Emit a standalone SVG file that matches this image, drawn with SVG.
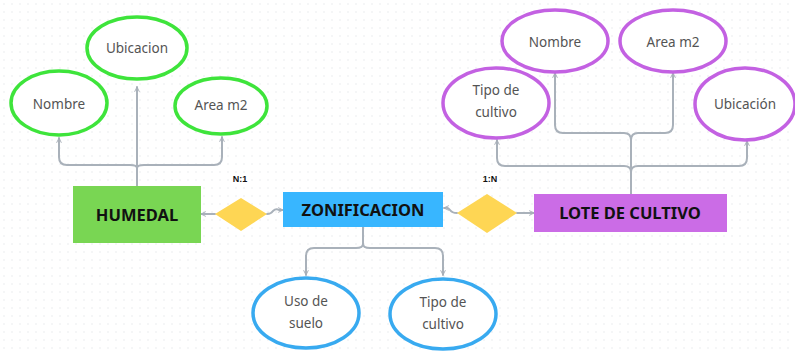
<svg xmlns="http://www.w3.org/2000/svg" width="795" height="352" viewBox="0 0 795 352">
<defs>
<pattern id="dots" width="8" height="8" patternUnits="userSpaceOnUse"><circle cx="4" cy="4" r="0.7" fill="#e3e5e8"/></pattern>
<marker id="ah" viewBox="0 0 10 10" refX="9" refY="5" markerWidth="6" markerHeight="6" orient="auto-start-reverse" markerUnits="userSpaceOnUse"><path d="M1,1 L9,5 L1,9" fill="none" stroke="#a7afb8" stroke-width="1.6"/></marker>
<style>
.c{fill:none;stroke:#a9b1ba;stroke-width:2;stroke-linejoin:round;stroke-linecap:round}
.g{fill:#fff;stroke:#3ee43b;stroke-width:3.5}
.p{fill:#fff;stroke:#c361e2;stroke-width:3.5}
.b{fill:#fff;stroke:#38aaf0;stroke-width:3.5}
.t{font-family:"Noto Sans","Liberation Sans",sans-serif;font-size:13.5px;fill:#545454;text-anchor:middle}
.h{font-family:"Noto Sans","Liberation Sans",sans-serif;font-size:16.5px;font-weight:bold;fill:#111;text-anchor:middle}
.r{font-family:"Liberation Sans",sans-serif;font-size:9px;font-weight:bold;fill:#111;text-anchor:middle}
.d{fill:#fed654}
</style>
</defs>
<rect width="795" height="352" fill="#fff"/>
<rect width="795" height="352" fill="url(#dots)"/>
<g id="connectors">
<path class="c" d="M137,186 V87" marker-end="url(#ah)"/>
<path class="c" d="M137,168 Q137,165 130,165 H67 Q59,165 59,157 V138" marker-end="url(#ah)"/>
<path class="c" d="M137,168 Q137,165 144,165 H214 Q222,165 222,157 V137" marker-end="url(#ah)"/>
<path class="c" d="M215,214 H201" marker-end="url(#ah)"/>
<path class="c" d="M267,214 Q271,214 273,211 Q276,208 279,210 L283,210" marker-end="url(#ah)"/>
<path class="c" d="M457,213 Q452,213 450,210 Q448,207 445,208 L444,208" marker-end="url(#ah)"/>
<path class="c" d="M517,213 H534" marker-end="url(#ah)"/>
<path class="c" d="M363,227 V244 Q363,248 356,248 H314 Q306,248 306,256 V275" marker-end="url(#ah)"/>
<path class="c" d="M363,244 Q363,248 370,248 H435 Q443,248 443,256 V275" marker-end="url(#ah)"/>
<path class="c" d="M631,194 V140 Q631,133 624,133 H563 Q555,133 555,125 V73" marker-end="url(#ah)"/>
<path class="c" d="M631,140 Q631,133 638,133 H665 Q673,133 673,125 V73" marker-end="url(#ah)"/>
<path class="c" d="M631,172 Q631,166 624,166 H505 Q497,166 497,158 V140" marker-end="url(#ah)"/>
<path class="c" d="M631,172 Q631,166 638,166 H739 Q747,166 747,158 V141" marker-end="url(#ah)"/>
</g>
<g id="humedal-ubicacion"><ellipse class="g" cx="137" cy="48" rx="50" ry="31"/><text class="t" x="137" y="53">Ubicacion</text></g>
<g id="humedal-nombre"><ellipse class="g" cx="59" cy="103" rx="48" ry="32"/><text class="t" x="59" y="109">Nombre</text></g>
<g id="humedal-area"><ellipse class="g" cx="221" cy="106" rx="46" ry="28"/><text class="t" x="221" y="110">Area m2</text></g>
<g id="humedal"><rect x="73" y="186" width="128" height="57" fill="#79d653"/><text class="h" x="137" y="221">HUMEDAL</text></g>
<g id="rel-n1"><polygon class="d" points="215,214 241,198 267,214 241,231"/><text class="r" x="240" y="182">N:1</text></g>
<g id="zonificacion"><rect x="283" y="192" width="160" height="35" fill="#38b6ff"/><text class="h" x="363" y="216">ZONIFICACION</text></g>
<g id="rel-1n"><polygon class="d" points="457,213 487,194 517,213 487,233"/><text class="r" x="490" y="182">1:N</text></g>
<g id="lote"><rect x="534" y="194" width="193" height="38" fill="#cb6ce6"/><text class="h" x="630" y="219">LOTE DE CULTIVO</text></g>
<g id="lote-tipo"><ellipse class="p" cx="496" cy="103" rx="53" ry="35"/><text class="t" x="496" y="95">Tipo de</text><text class="t" x="496" y="117">cultivo</text></g>
<g id="lote-nombre"><ellipse class="p" cx="555" cy="41" rx="53" ry="31"/><text class="t" x="555" y="47">Nombre</text></g>
<g id="lote-area"><ellipse class="p" cx="673" cy="41" rx="53" ry="31"/><text class="t" x="673" y="47">Area m2</text></g>
<g id="lote-ubicacion"><ellipse class="p" cx="745" cy="104" rx="50" ry="36"/><text class="t" x="745" y="109">Ubicación</text></g>
<g id="zon-uso"><ellipse class="b" cx="306" cy="313" rx="53" ry="35"/><text class="t" x="306" y="306">Uso de</text><text class="t" x="306" y="328">suelo</text></g>
<g id="zon-tipo"><ellipse class="b" cx="443" cy="314" rx="53" ry="35"/><text class="t" x="443" y="307">Tipo de</text><text class="t" x="443" y="329">cultivo</text></g>
</svg>
